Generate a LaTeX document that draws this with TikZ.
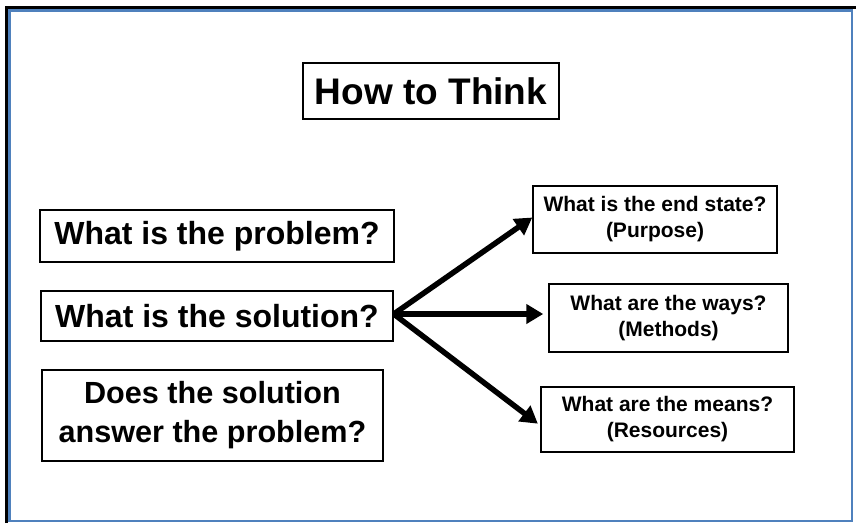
\documentclass[tikz,border=0pt]{standalone}
\usepackage{fontspec}
\setmainfont{Liberation Sans}
\usetikzlibrary{arrows.meta}
\definecolor{frameblue}{RGB}{79,129,189}
\begin{document}
\begin{tikzpicture}[x=1pt,y=-1pt,
  box/.style={draw=black,line width=1.5pt,inner sep=0pt,align=center,font=\bfseries},
  arr/.style={line width=5.5pt,-{Triangle[length=17pt,width=19pt]}}]
\useasboundingbox (0,0) rectangle (856,523);
\fill[white] (0,0) rectangle (856,523);
% frame
\draw[black,line width=3pt] (6,523) -- (6,7) -- (856,7);
\draw[frameblue,line width=2.2pt] (9.5,10.5) rectangle (852,521);
% nodes
\node[box,minimum width=256pt,minimum height=56pt,font=\bfseries\fontsize{37}{40}\selectfont] (title) at (431,91) {How to Think};
\node[box,minimum width=354pt,minimum height=52pt,font=\bfseries\fontsize{32}{36}\selectfont] (prob) at (217,236) {What is the problem?};
\node[box,minimum width=352pt,minimum height=50pt,font=\bfseries\fontsize{32}{36}\selectfont] (sol) at (217,316) {What is the solution?};
\node[box,minimum width=341pt,minimum height=91pt,font=\bfseries\fontsize{30.6}{39}\selectfont] (does) at (212.5,415.5) {Does the solution\\answer the problem?};
\node[box,minimum width=244pt,minimum height=67pt,font=\bfseries\fontsize{21}{26}\selectfont] (end) at (655,219.5) {What is the end state?\\(Purpose)};
\node[box,minimum width=239pt,minimum height=68pt,font=\bfseries\fontsize{21}{26}\selectfont] (ways) at (668.5,318) {What are the ways?\\(Methods)};
\node[box,minimum width=253pt,minimum height=65pt,font=\bfseries\fontsize{21}{26}\selectfont] (means) at (667.5,419.5) {What are the means?\\(Resources)};
% arrows
\coordinate (o) at ([yshift=2pt]sol.east);
\draw[arr] (o) -- ([yshift=2pt]end.west);
\draw[arr,shorten >=5pt] (o) -- (o -| ways.west);
\draw[arr,shorten >=3pt] (o) -- ([yshift=-6pt]means.west);
\end{tikzpicture}
\end{document}
